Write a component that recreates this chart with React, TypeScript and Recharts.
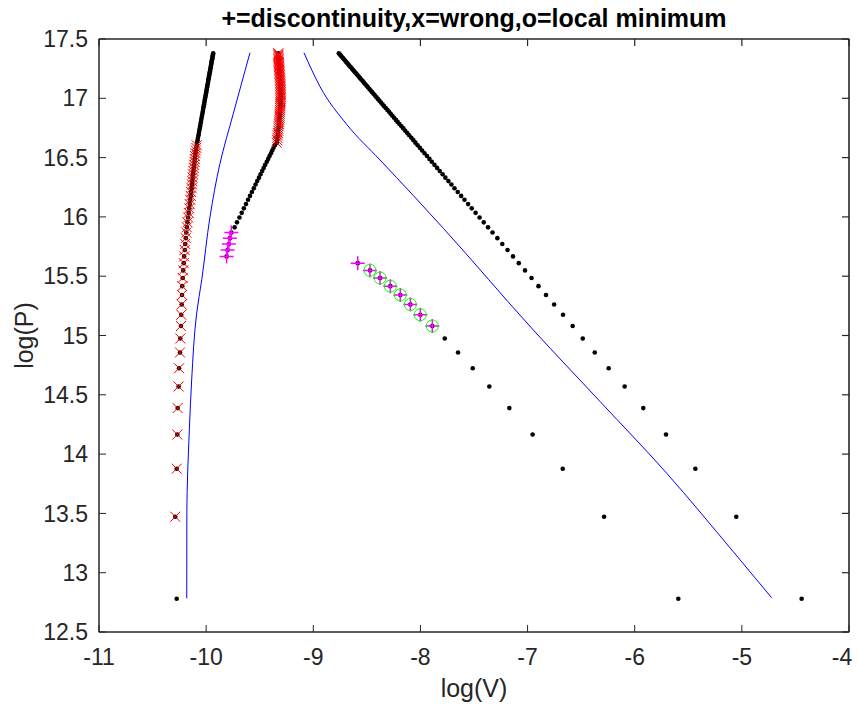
import React from 'react';
import { ScatterChart, Scatter, XAxis, YAxis } from 'recharts';

// log(P) levels shared by every dotted chain (level n = 1..100)
const P_LEVELS = [
  12.780, 13.472, 13.877, 14.165, 14.388, 14.570, 14.724, 14.857, 14.975, 15.080,
  15.175, 15.262, 15.342, 15.416, 15.485, 15.549, 15.610, 15.667, 15.721, 15.772,
  15.821, 15.868, 15.912, 15.954, 15.995, 16.034, 16.072, 16.108, 16.144, 16.177,
  16.210, 16.242, 16.273, 16.302, 16.331, 16.359, 16.387, 16.413, 16.439, 16.465,
  16.489, 16.513, 16.537, 16.560, 16.582, 16.604, 16.626, 16.647, 16.667, 16.688,
  16.707, 16.727, 16.746, 16.764, 16.783, 16.801, 16.818, 16.836, 16.853, 16.870,
  16.886, 16.902, 16.918, 16.934, 16.950, 16.965, 16.980, 16.995, 17.009, 17.024,
  17.038, 17.052, 17.066, 17.079, 17.093, 17.106, 17.119, 17.132, 17.145, 17.157,
  17.170, 17.182, 17.194, 17.206, 17.218, 17.229, 17.241, 17.252, 17.264, 17.275,
  17.286, 17.297, 17.307, 17.318, 17.329, 17.339, 17.350, 17.360, 17.370, 17.380,
];

// right black chain, levels 1..100
const V_RIGHT = [
  -4.442, -5.052, -5.434, -5.708, -5.920, -6.094, -6.243, -6.373, -6.485, -6.579,
  -6.669, -6.752, -6.828, -6.898, -6.963, -7.024, -7.082, -7.136, -7.187, -7.236,
  -7.282, -7.327, -7.369, -7.409, -7.448, -7.485, -7.521, -7.555, -7.589, -7.620,
  -7.652, -7.682, -7.711, -7.739, -7.767, -7.793, -7.820, -7.844, -7.869, -7.894,
  -7.916, -7.939, -7.962, -7.984, -8.005, -8.026, -8.047, -8.066, -8.085, -8.105,
  -8.123, -8.142, -8.160, -8.177, -8.196, -8.213, -8.229, -8.246, -8.262, -8.278,
  -8.293, -8.308, -8.324, -8.339, -8.354, -8.368, -8.383, -8.397, -8.410, -8.424,
  -8.438, -8.451, -8.464, -8.476, -8.490, -8.502, -8.514, -8.527, -8.539, -8.551,
  -8.563, -8.574, -8.586, -8.597, -8.608, -8.619, -8.630, -8.641, -8.652, -8.663,
  -8.673, -8.683, -8.693, -8.703, -8.714, -8.723, -8.734, -8.743, -8.753, -8.762,
];

// middle chain, levels 1..17
const V_MID = [
  -5.593, -6.286, -6.672, -6.953, -7.170, -7.357, -7.512, -7.649, -7.773, -7.889,
  -8.001, -8.094, -8.188, -8.281, -8.377, -8.471, -8.585,
];

// left chain, levels 1..100
const V_LEFT = [
  -10.275, -10.288, -10.275, -10.269, -10.266, -10.257, -10.253, -10.244, -10.241, -10.235,
  -10.232, -10.228, -10.225, -10.223, -10.219, -10.214, -10.209, -10.205, -10.200, -10.195,
  -10.190, -10.185, -10.180, -10.174, -10.168, -10.163, -10.158, -10.153, -10.148, -10.144,
  -10.140, -10.136, -10.132, -10.129, -10.126, -10.123, -10.119, -10.116, -10.112, -10.109,
  -10.106, -10.103, -10.099, -10.096, -10.092, -10.088, -10.084, -10.080, -10.076, -10.071,
  -10.068, -10.064, -10.060, -10.056, -10.053, -10.049, -10.046, -10.042, -10.039, -10.035,
  -10.032, -10.029, -10.026, -10.023, -10.019, -10.017, -10.014, -10.011, -10.008, -10.005,
  -10.002, -9.999, -9.997, -9.994, -9.991, -9.989, -9.986, -9.983, -9.981, -9.979,
  -9.976, -9.974, -9.971, -9.969, -9.966, -9.964, -9.962, -9.960, -9.957, -9.955,
  -9.953, -9.951, -9.949, -9.947, -9.944, -9.942, -9.940, -9.938, -9.936, -9.934,
];

// inner chain, levels 18..100
const INNER_START = 18;
const V_INNER = [
  -9.809, -9.800, -9.788, -9.778, -9.765,
  -9.734, -9.712, -9.689, -9.668, -9.648, -9.628, -9.609, -9.591,
  -9.573, -9.555, -9.539, -9.523, -9.507, -9.492, -9.477, -9.463, -9.449, -9.434,
  -9.421, -9.408, -9.395, -9.383, -9.371, -9.359,
  -9.341, -9.338, -9.335, -9.332,
  -9.330, -9.327, -9.325, -9.323, -9.321, -9.319, -9.317, -9.315, -9.314, -9.312,
  -9.311, -9.310, -9.309, -9.308, -9.307, -9.306, -9.305, -9.305, -9.304, -9.304,
  -9.304, -9.304, -9.305, -9.305, -9.306, -9.306, -9.307, -9.308, -9.309, -9.310,
  -9.311, -9.312, -9.313, -9.314, -9.315, -9.316, -9.317, -9.318, -9.319, -9.320,
  -9.321, -9.322, -9.322, -9.323, -9.324, -9.325, -9.325, -9.326, -9.327, -9.327,
];

// marker level ranges [first, last]
const WRONG_LEFT = [2, 46];
const WRONG_INNER = [47, 100];
const DISC_MID = [10, 17];
const DISC_INNER = [18, 22];
const LOCMIN_MID = [10, 16];

// blue reference curves
const BLUE_LEFT_V = [-10.181, -10.180, -10.157, -10.135, -10.088, -10.041, -9.964, -9.871, -9.747, -9.653, -9.591];
const BLUE_LEFT_P = [12.784, 13.50, 14.20, 14.625, 15.19, 15.47, 16.00, 16.45, 16.87, 17.18, 17.384];
const BLUE_RIGHT_V = [-9.087, -8.937, -8.688, -8.377, -8.066, -7.786, -6.946, -6.322, -5.701, -5.080, -4.722];
const BLUE_RIGHT_P = [17.384, 17.098, 16.78, 16.48, 16.18, 15.904, 15.046, 14.442, 13.838, 13.177, 12.789];

const X_DOMAIN = [-11, -4];
const Y_DOMAIN = [12.5, 17.5];
const X_TICKS = [-11, -10, -9, -8, -7, -6, -5, -4];
const Y_TICKS = [12.5, 13, 13.5, 14, 14.5, 15, 15.5, 16, 16.5, 17, 17.5];

const TITLE = '+=discontinuity,x=wrong,o=local minimum';
const X_LABEL = 'log(V)';
const Y_LABEL = 'log(P)';

type Pt = { x: number; y: number; n: number };
const chain = (xs: number[], start: number): Pt[] =>
  xs.map((v, i) => ({ x: v, y: P_LEVELS[start - 1 + i], n: start + i }));
const pick = (pts: Pt[], r: number[]) => pts.filter((p) => p.n >= r[0] && p.n <= r[1]);
const curve = (xs: number[], ys: number[]) => xs.map((v, i) => ({ x: v, y: ys[i] }));

const rightPts = chain(V_RIGHT, 1);
const midPts = chain(V_MID, 1);
const leftPts = chain(V_LEFT, 1);
const innerPts = chain(V_INNER, INNER_START);
const blueLeft = curve(BLUE_LEFT_V, BLUE_LEFT_P);
const blueRight = curve(BLUE_RIGHT_V, BLUE_RIGHT_P);

const FONT = '"Liberation Sans", Arial, Helvetica, sans-serif';
const AX = '#262626';
const MARGIN_TOP = 9;
const TOP_AXIS_H = 30;

const Dot = (p: any) => <circle cx={p.cx} cy={p.cy} r={2.3} fill="#000" />;
const XMark = (p: any) => {
  const { cx, cy } = p;
  const s = 5;
  return (
    <path
      d={`M${cx - s},${cy - s}L${cx + s},${cy + s}M${cx - s},${cy + s}L${cx + s},${cy - s}`}
      stroke="#ff0000"
      strokeWidth={1}
      fill="none"
    />
  );
};
const PlusMark = (p: any) => {
  const { cx, cy } = p;
  const s = 7;
  return (
    <path
      d={`M${cx - s},${cy}L${cx + s},${cy}M${cx},${cy - s}L${cx},${cy + s}`}
      stroke="#ff00ff"
      strokeWidth={1.5}
      fill="none"
    />
  );
};
const CircleMark = (p: any) => (
  <circle cx={p.cx} cy={p.cy} r={6} stroke="#00ff00" strokeWidth={1} fill="none" />
);
const NoMark = () => <g />;
const EmptyTick = () => <g />;

// x tick labels; the last one is nudged inward so it stays inside the picture
const XTick = (p: any) => {
  const last = p.payload && p.payload.value === X_TICKS[X_TICKS.length - 1];
  return (
    <text
      x={p.x + (last ? -7 : 0)}
      y={p.y}
      dy="0.71em"
      textAnchor="middle"
      fontFamily={FONT}
      fontSize={23}
      fill={AX}
    >
      {p.payload ? p.payload.value : ''}
    </text>
  );
};

// bottom axis label: x label, title above the plot, and the axes box outline
const renderBottomLabels = (props: any) => {
  const vb = props.viewBox || {};
  const cx = vb.x + vb.width / 2;
  const top = MARGIN_TOP + TOP_AXIS_H;
  return (
    <g>
      <rect x={vb.x} y={top} width={vb.width} height={vb.y - top} fill="none" stroke={AX} strokeWidth={1} />
      <text x={cx} y={vb.y + 65} textAnchor="middle" fontFamily={FONT} fontSize={25} fill={AX}>
        {X_LABEL}
      </text>
      <text x={cx} y={27} textAnchor="middle" fontFamily={FONT} fontWeight="bold" fontSize={25} fill="#000">
        {TITLE}
      </text>
    </g>
  );
};
const renderYLabel = (props: any) => {
  const vb = props.viewBox || {};
  const cx = vb.x + 25;
  const cy = vb.y + vb.height / 2;
  return (
    <text
      x={cx}
      y={cy}
      transform={`rotate(-90 ${cx} ${cy})`}
      textAnchor="middle"
      fontFamily={FONT}
      fontSize={25}
      fill={AX}
    >
      {Y_LABEL}
    </text>
  );
};

export default function App() {
  return (
    <div style={{ width: 860, height: 703, marginTop: -8, marginLeft: -8 }}>
      <style>{'html{overflow:hidden;}'}</style>
      <ScatterChart width={860} height={703} margin={{ top: MARGIN_TOP, right: 1, bottom: 0, left: 8 }}>
        <XAxis
          xAxisId="b"
          type="number"
          dataKey="x"
          orientation="bottom"
          domain={X_DOMAIN}
          ticks={X_TICKS}
          height={71}
          allowDataOverflow
          interval={0}
          axisLine={{ stroke: AX }}
          tickLine={{ stroke: AX }}
          tickSize={-7}
          tickMargin={24}
          tick={XTick}
          label={renderBottomLabels}
        />
        <XAxis
          xAxisId="t"
          type="number"
          dataKey="x"
          orientation="top"
          domain={X_DOMAIN}
          ticks={X_TICKS}
          height={TOP_AXIS_H}
          allowDataOverflow
          interval={0}
          axisLine={{ stroke: AX, strokeWidth: 1.2 }}
          tickLine={{ stroke: AX, strokeWidth: 1.2 }}
          tickSize={-7}
          tick={EmptyTick}
        />
        <YAxis
          yAxisId="l"
          type="number"
          dataKey="y"
          orientation="left"
          domain={Y_DOMAIN}
          ticks={Y_TICKS}
          width={91}
          allowDataOverflow
          interval={0}
          axisLine={{ stroke: AX }}
          tickLine={{ stroke: AX }}
          tickSize={-7}
          tickMargin={18}
          tick={{ fontSize: 23, fill: AX, fontFamily: FONT }}
          label={renderYLabel}
        />
        <YAxis
          yAxisId="r"
          type="number"
          dataKey="y"
          orientation="right"
          domain={Y_DOMAIN}
          ticks={Y_TICKS}
          width={10}
          allowDataOverflow
          interval={0}
          axisLine={{ stroke: AX, strokeWidth: 1.2 }}
          tickLine={{ stroke: AX, strokeWidth: 1.2 }}
          tickSize={-7}
          tick={EmptyTick}
        />

        <Scatter
          xAxisId="t"
          yAxisId="r"
          data={blueLeft}
          shape={NoMark}
          line={{ stroke: '#0000ff', strokeWidth: 1 }}
          lineType="joint"
          lineJointType="monotoneY"
          isAnimationActive={false}
        />
        <Scatter
          xAxisId="b"
          yAxisId="l"
          data={blueRight}
          shape={NoMark}
          line={{ stroke: '#0000ff', strokeWidth: 1 }}
          lineType="joint"
          lineJointType="monotoneX"
          isAnimationActive={false}
        />

        <Scatter xAxisId="b" yAxisId="l" data={leftPts} shape={Dot} isAnimationActive={false} />
        <Scatter xAxisId="b" yAxisId="l" data={innerPts} shape={Dot} isAnimationActive={false} />
        <Scatter xAxisId="b" yAxisId="l" data={midPts} shape={Dot} isAnimationActive={false} />
        <Scatter xAxisId="b" yAxisId="l" data={rightPts} shape={Dot} isAnimationActive={false} />

        <Scatter xAxisId="b" yAxisId="l" data={pick(leftPts, WRONG_LEFT)} shape={XMark} isAnimationActive={false} />
        <Scatter xAxisId="b" yAxisId="l" data={pick(innerPts, WRONG_INNER)} shape={XMark} isAnimationActive={false} />

        <Scatter xAxisId="b" yAxisId="l" data={pick(midPts, DISC_MID)} shape={PlusMark} isAnimationActive={false} />
        <Scatter xAxisId="b" yAxisId="l" data={pick(innerPts, DISC_INNER)} shape={PlusMark} isAnimationActive={false} />

        <Scatter xAxisId="b" yAxisId="l" data={pick(midPts, LOCMIN_MID)} shape={CircleMark} isAnimationActive={false} />
      </ScatterChart>
    </div>
  );
}
